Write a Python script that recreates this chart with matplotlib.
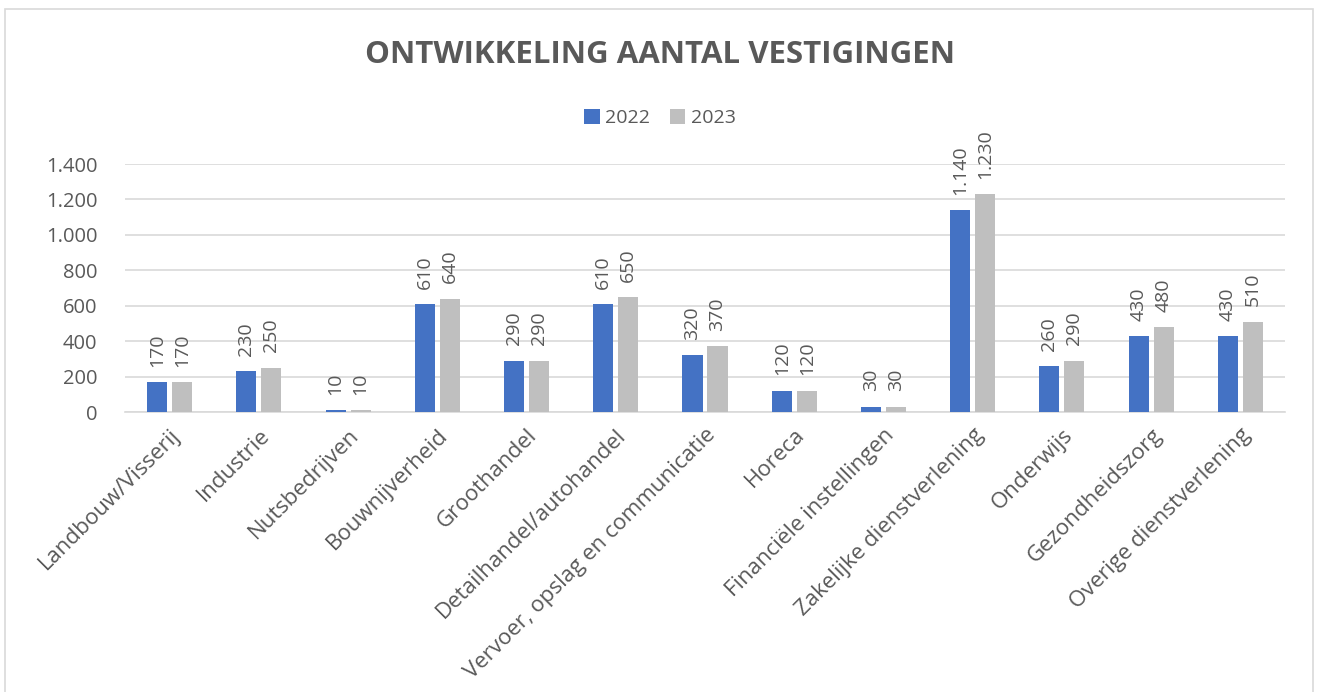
import matplotlib.pyplot as plt
import numpy as np
from matplotlib.patches import Rectangle

# Chart data
categories = ['Landbouw/Visserij', 'Industrie', 'Nutsbedrijven', 'Bouwnijverheid',
              'Groothandel', 'Detailhandel/autohandel', 'Vervoer, opslag en communicatie',
              'Horeca', 'Financiële instellingen', 'Zakelijke dienstverlening',
              'Onderwijs', 'Gezondheidszorg', 'Overige dienstverlening']
values_2022 = [170, 230, 10, 610, 290, 610, 320, 120, 30, 1140, 260, 430, 430]
values_2023 = [170, 250, 10, 640, 290, 650, 370, 120, 30, 1230, 290, 480, 510]
y_ticks = [0, 200, 400, 600, 800, 1000, 1200, 1400]

text_color = '#595959'
blue = '#4472C4'
grey = '#BFBFBF'

plt.rcParams['font.family'] = ['Open Sans', 'DejaVu Sans']


def fmt(v):
    # Dutch thousands separator
    return f'{v:,}'.replace(',', '.')


fig = plt.figure(figsize=(13.2, 6.92), dpi=100)
ax = fig.add_axes([0.0947, 0.4046, 0.8788, 0.3584])

# Outer chart border
fig.patches.append(Rectangle((5 / 1320, -0.05), 1308 / 1320, 1.05 - 9 / 692,
                             transform=fig.transFigure, fill=False,
                             edgecolor='#D9D9D9', linewidth=1.2))

x = np.arange(len(categories))
w = 0.225
off = 0.14
b1 = ax.bar(x - off, values_2022, w, color=blue, label='2022', zorder=3)
b2 = ax.bar(x + off, values_2023, w, color=grey, label='2023', zorder=3)

for bars, vals in [(b1, values_2022), (b2, values_2023)]:
    for bar, v in zip(bars, vals):
        ax.annotate(fmt(v), (bar.get_x() + bar.get_width() / 2, v),
                    xytext=(0, 11), textcoords='offset points',
                    rotation=90, ha='center', va='bottom', fontsize=14,
                    color=text_color)

ax.set_xlim(-0.5, len(categories) - 0.5)
ax.set_ylim(0, 1400)
ax.set_yticks(y_ticks)
ax.set_yticklabels([fmt(t) for t in y_ticks])
ax.set_xticks(x)
ax.set_xticklabels(categories, rotation=45, ha='right', rotation_mode='anchor')

ax.tick_params(axis='both', length=0, colors=text_color)
ax.tick_params(axis='y', pad=20, labelsize=14.5)
ax.tick_params(axis='x', pad=9, labelsize=16)

ax.yaxis.grid(True, color='#D9D9D9', linewidth=1.2, zorder=0)
for s in ['top', 'right', 'left']:
    ax.spines[s].set_visible(False)
ax.spines['bottom'].set_color('#D9D9D9')
ax.spines['bottom'].set_linewidth(1.2)

fig.text(0.5, 1 - 55 / 692, 'ONTWIKKELING AANTAL VESTIGINGEN', ha='center',
         va='center', fontsize=22.5, fontweight='bold', color=text_color)

fig.legend(handles=[b1, b2], loc='center', bbox_to_anchor=(0.5, 1 - 118 / 692),
           ncol=2, frameon=False, fontsize=14, handlelength=0.8,
           handleheight=0.8, handletextpad=0.3, columnspacing=1.0,
           labelcolor=text_color)

fig.savefig('out.png', dpi=100)
